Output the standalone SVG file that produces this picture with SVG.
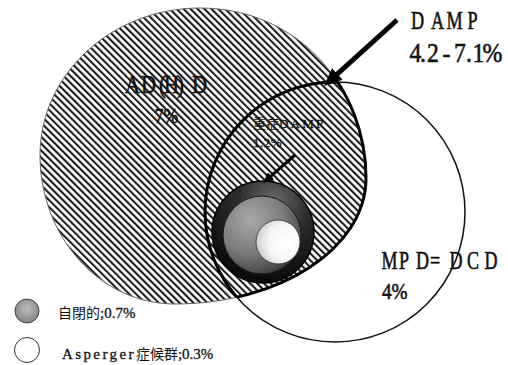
<svg xmlns="http://www.w3.org/2000/svg" width="508" height="365" viewBox="0 0 508 365">
<style>
  .lbl { font-family: "Liberation Serif", "Noto Sans CJK JP", serif; fill: #111; }
  .heavy { stroke: #111; stroke-width: 0.6; }
  .mid { text-anchor: middle; }
  .thin { fill: none; stroke: #111; stroke-width: 1.5; }
  .thick { fill: none; stroke: #000; stroke-width: 3; }
  .arrow { stroke: #000; fill: none; marker-end: url(#head); }
</style>
<defs>
  <pattern id="hatch" patternUnits="userSpaceOnUse" width="4.9" height="10" patternTransform="rotate(-45)">
    <rect x="0" y="0" width="2.1" height="10" fill="#1c1c1c"/>
  </pattern>
  <marker id="head" viewBox="0 0 10 10" refX="2" refY="5" markerUnits="strokeWidth" markerWidth="3.6" markerHeight="3.2" orient="auto" preserveAspectRatio="none">
    <path d="M0,0 L10,5 L0,10 z" fill="#000"/>
  </marker>
  <path id="adhdShape" d="M200,8 C300,8 366,90 366,178 C366,248 280,304 175,304 C100,304 40,237 40,155 C40,74 112,8 200,8 Z"/>
  <clipPath id="inEllipse"><use href="#adhdShape"/></clipPath>
  <clipPath id="inCircle"><circle cx="335" cy="212" r="130"/></clipPath>
  <radialGradient id="ringGrad" cx="0.6" cy="0.2" r="0.85">
    <stop offset="0" stop-color="#6a6a6a"/>
    <stop offset="0.4" stop-color="#2e2e2e"/>
    <stop offset="1" stop-color="#050505"/>
  </radialGradient>
  <radialGradient id="discGrad" cx="0.35" cy="0.3" r="0.85">
    <stop offset="0" stop-color="#a8a8a8"/>
    <stop offset="0.5" stop-color="#7c7c7c"/>
    <stop offset="1" stop-color="#2c2c2c"/>
  </radialGradient>
  <radialGradient id="whiteGrad" cx="0.7" cy="0.5" r="0.75">
    <stop offset="0" stop-color="#fff"/>
    <stop offset="0.55" stop-color="#f6f6f6"/>
    <stop offset="1" stop-color="#c4c4c4"/>
  </radialGradient>
  <radialGradient id="legendGrad" cx="0.5" cy="0.4" r="0.7">
    <stop offset="0" stop-color="#bdbdbd"/>
    <stop offset="1" stop-color="#7a7a7a"/>
  </radialGradient>
</defs>
<rect width="508" height="365" fill="#fff"/>

<g id="adhd">
  <use href="#adhdShape" fill="url(#hatch)" stroke="#666" stroke-width="1"/>
  <text class="lbl heavy mid" font-size="26" transform="translate(125,93) scale(0.8,1)" x="9.4 29.4 46.9 58.1 69.4 93.1">AD(H)D</text>
  <text class="lbl heavy mid" font-size="22" transform="translate(166.5,123) scale(0.8,1)" x="0">7%</text>
</g>

<g id="mpd">
  <circle class="thin" cx="335" cy="212" r="130"/>
  <text class="lbl heavy mid" font-size="25" transform="translate(382,269) scale(0.72,1)" x="10.4 30.6 56.3 73.6 102.8 126.4 151.4">MPD=DCD</text>
  <text class="lbl heavy" font-size="24" transform="translate(382,299) scale(0.8,1)" x="0">4%</text>
</g>

<g id="damp">
  <circle class="thick" cx="335" cy="212" r="130" clip-path="url(#inEllipse)"/>
  <use href="#adhdShape" class="thick" stroke-width="2.6" clip-path="url(#inCircle)"/>
  <text class="lbl heavy mid" font-size="26" transform="translate(410,29) scale(0.7,1)" x="10.7 39.3 63.6 89.3">DAMP</text>
  <text class="lbl heavy mid" font-size="28" transform="translate(409,62) scale(0.85,1)" x="7.6 16.5 28.2 44.1 60 70.6 81.8 98.2">4.2-7.1%</text>
</g>

<g id="severe-damp">
  <text class="lbl" x="253" y="128" font-size="13">重症<tspan letter-spacing="2.2" stroke="#111" stroke-width="0.3">DAMP</tspan></text>
  <text class="lbl" x="253" y="147" font-size="13" letter-spacing="0.5" stroke="#111" stroke-width="0.3">1.2%</text>
</g>

<g id="autism">
  <circle cx="263" cy="232" r="51" fill="url(#ringGrad)" stroke="#000" stroke-width="1.4"/>
  <circle cx="262" cy="235" r="39" fill="url(#discGrad)" stroke="#1a1a1a" stroke-width="1"/>
  <circle cx="278" cy="242" r="22" fill="url(#whiteGrad)" stroke="#333" stroke-width="0.8"/>
</g>

<g id="legend-autism">
  <circle cx="27" cy="311" r="12" fill="url(#legendGrad)" stroke="#444" stroke-width="1"/>
  <text class="lbl" x="58" y="318" font-size="14">自閉的<tspan font-size="15" stroke="#111" stroke-width="0.3">;0.7%</tspan></text>
</g>

<g id="legend-asperger">
  <circle cx="27" cy="350" r="12.5" fill="#fff" stroke="#333" stroke-width="1"/>
  <text class="lbl" x="62" y="359" font-size="14"><tspan letter-spacing="2.4" font-size="15" stroke="#111" stroke-width="0.3">Asperger</tspan>症候群<tspan font-size="15" stroke="#111" stroke-width="0.3">;0.3%</tspan></text>
</g>

<g id="connectors">
  <line class="arrow" x1="397" y1="20" x2="334.7" y2="76.3" stroke-width="5"/>
  <line class="arrow" x1="295" y1="155" x2="269.5" y2="177.3" stroke-width="3"/>
</g>
</svg>
